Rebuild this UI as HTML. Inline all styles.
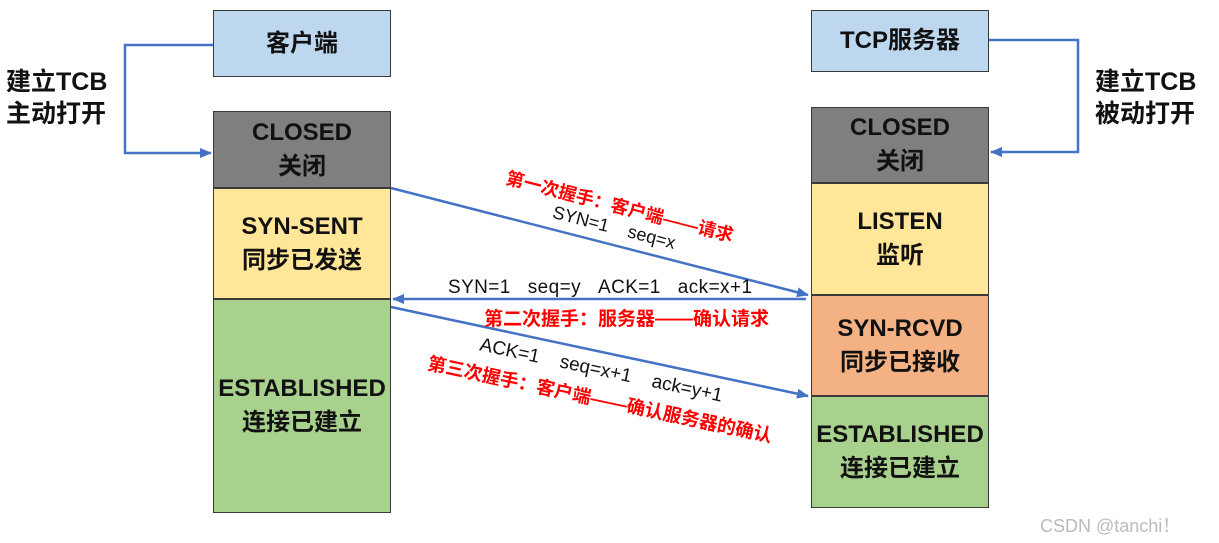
<!DOCTYPE html>
<html><head><meta charset="utf-8"><style>
body{margin:0;width:1219px;height:543px;background:#fff;position:relative;overflow:hidden;font-family:"Liberation Sans","Noto Sans CJK SC",sans-serif}
.b{position:absolute;box-sizing:border-box;border:1.5px solid #3a3a3a;display:flex;flex-direction:column;align-items:center;justify-content:center;font-size:24px;font-weight:bold;color:#111;line-height:34px;text-align:center}
.t{position:absolute;white-space:nowrap;font-weight:bold}
.c{position:absolute;white-space:nowrap;font-size:18px}
</style></head><body>
<div class="b" style="left:213px;top:10px;width:178px;height:67px;background:#bdd7ee">客户端</div>
<div class="b" style="left:213px;top:111px;width:178px;height:77px;background:#7f7f7f">CLOSED<br>关闭</div>
<div class="b" style="left:213px;top:188px;width:178px;height:111px;background:#ffe699">SYN-SENT<br>同步已发送</div>
<div class="b" style="left:213px;top:299px;width:178px;height:214px;background:#a9d18e">ESTABLISHED<br>连接已建立</div>
<div class="b" style="left:811px;top:10px;width:178px;height:62px;background:#bdd7ee">TCP服务器</div>
<div class="b" style="left:811px;top:107px;width:178px;height:76px;background:#7f7f7f">CLOSED<br>关闭</div>
<div class="b" style="left:811px;top:183px;width:178px;height:112px;background:#ffe699">LISTEN<br>监听</div>
<div class="b" style="left:811px;top:295px;width:178px;height:101px;background:#f4b183">SYN-RCVD<br>同步已接收</div>
<div class="b" style="left:811px;top:396px;width:178px;height:112px;background:#a9d18e">ESTABLISHED<br>连接已建立</div>
<div class="t" style="left:6px;top:66px;font-size:25px;line-height:32px;color:#111">建立TCB<br>主动打开</div>
<div class="t" style="left:1095px;top:66px;font-size:25px;line-height:32px;color:#111">建立TCB<br>被动打开</div>
<svg width="1219" height="543" style="position:absolute;left:0;top:0">
<defs><marker id="a" markerWidth="12" markerHeight="10" refX="11" refY="5" orient="auto" markerUnits="userSpaceOnUse"><path d="M0,0L12,5L0,10z" fill="#4472c4"/></marker></defs>
<g stroke="#4472c4" stroke-width="2.5" fill="none">
<polyline points="213,45 125,45 125,153 211,153" marker-end="url(#a)"/>
<polyline points="989,40 1078,40 1078,152 991,152" marker-end="url(#a)"/>
<line x1="391" y1="188" x2="808" y2="295" marker-end="url(#a)"/>
<line x1="806" y1="299" x2="393" y2="299" marker-end="url(#a)"/>
<line x1="391" y1="307" x2="808" y2="396" marker-end="url(#a)"/>
</g></svg>
<div class="c" style="left:620px;top:206px;font-weight:bold;color:#f00;transform:translate(-50%,-50%) rotate(14.4deg)">第一次握手：客户端——请求</div>
<div class="c" style="left:614px;top:228px;color:#111;transform:translate(-50%,-50%) rotate(14.4deg)">SYN=1&nbsp;&nbsp;&nbsp;&nbsp;seq=x</div>
<div class="c" style="left:448px;top:277px;color:#111;font-size:19px;letter-spacing:0.4px">SYN=1&nbsp;&nbsp;&nbsp;seq=y&nbsp;&nbsp;&nbsp;ACK=1&nbsp;&nbsp;&nbsp;ack=x+1</div>
<div class="c" style="left:484px;top:304px;font-weight:bold;color:#f00;font-size:19px">第二次握手：服务器——确认请求</div>
<div class="c" style="left:601px;top:371px;color:#111;font-size:19px;transform:translate(-50%,-50%) rotate(12deg)">ACK=1&nbsp;&nbsp;&nbsp;&nbsp;seq=x+1&nbsp;&nbsp;&nbsp;&nbsp;ack=y+1</div>
<div class="c" style="left:600px;top:399px;font-weight:bold;color:#f00;font-size:18.5px;transform:translate(-50%,-50%) rotate(12deg)">第三次握手：客户端——确认服务器的确认</div>
<div class="c" style="left:1040px;top:512px;font-size:18px;color:#bbb">CSDN @tanchi！</div>
</body></html>
